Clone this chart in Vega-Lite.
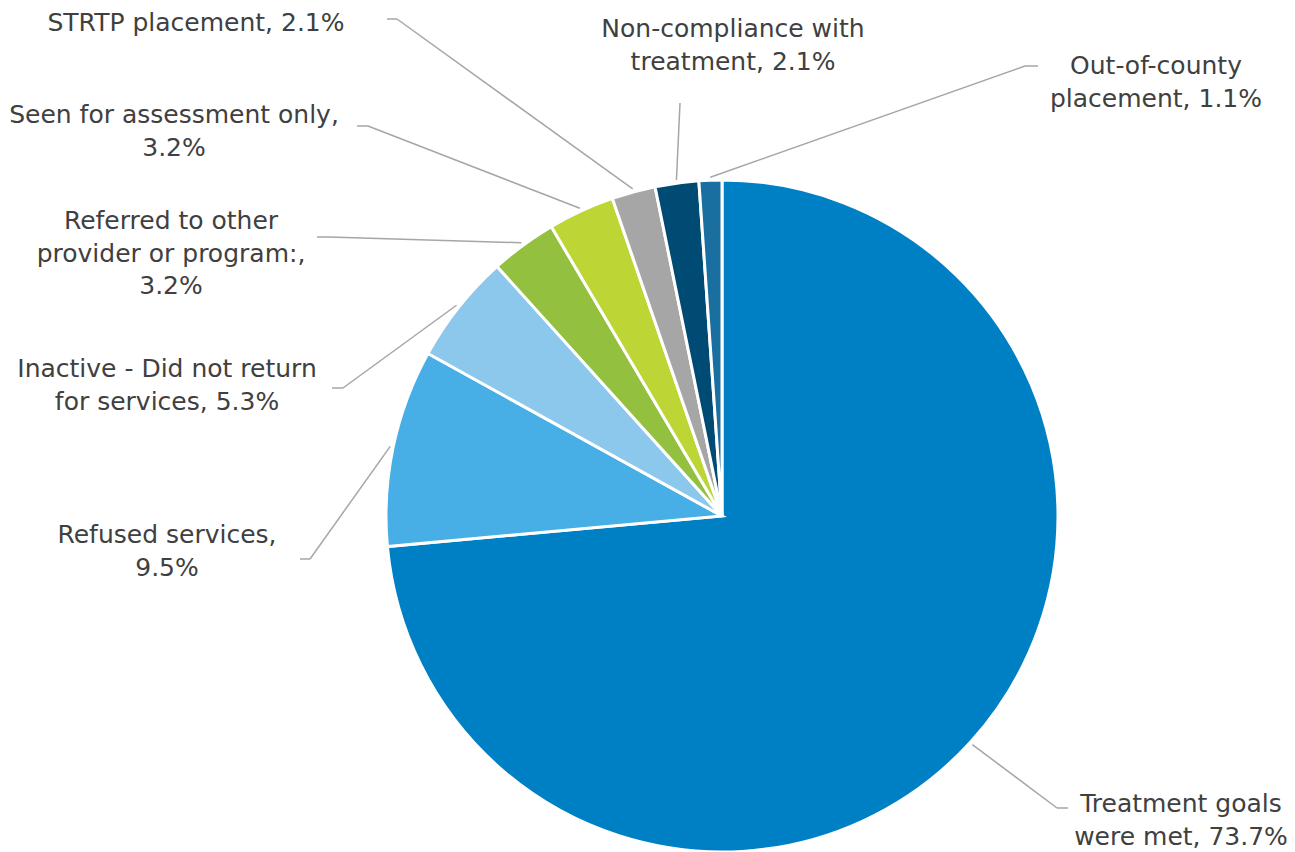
{
  "$schema": "https://vega.github.io/schema/vega-lite/v6.json",
  "width": 1146,
  "height": 672,
  "autosize": {"type": "none"},
  "padding": {"left": 149, "top": 180, "right": 0, "bottom": 0},
  "background": "white",
  "config": {"view": {"stroke": null}},
  "data": {
    "values": [
      {"category": "Treatment goals were met", "value": 73.7, "label": "Treatment goals\nwere met, 73.7%"},
      {"category": "Refused services", "value": 9.5, "label": "Refused services,\n9.5%"},
      {"category": "Inactive - Did not return for services", "value": 5.3, "label": "Inactive - Did not return\nfor services, 5.3%"},
      {"category": "Referred to other provider or program:", "value": 3.2, "label": "Referred to other\nprovider or program:,\n3.2%"},
      {"category": "Seen for assessment only", "value": 3.2, "label": "Seen for assessment only,\n3.2%"},
      {"category": "STRTP placement", "value": 2.1, "label": "STRTP placement, 2.1%"},
      {"category": "Non-compliance with treatment", "value": 2.1, "label": "Non-compliance with\ntreatment, 2.1%"},
      {"category": "Out-of-county placement", "value": 1.1, "label": "Out-of-county\nplacement, 1.1%"}
    ]
  },
  "transform": [
    {"window": [{"op": "row_number", "as": "idx"}, {"op": "sum", "field": "value", "as": "cum"}], "frame": [null, 0]},
    {"joinaggregate": [{"op": "sum", "field": "value", "as": "total"}]},
    {"calculate": "(datum.cum - datum.value / 2) / datum.total * 2 * PI", "as": "mid"},
    {"calculate": "339 * sin(datum.mid)", "as": "sx"},
    {"calculate": "339 * cos(datum.mid)", "as": "sy"},
    {"calculate": "[459, -555, -555, -551, -548, -526, 11, 434][datum.idx - 1]", "as": "lx"},
    {"calculate": "[-288, -19, 147, 295, 401, 493, 487, 450][datum.idx - 1]", "as": "ly"},
    {"calculate": "[335, -412, -379, -393, -354, -325, -42, 303][datum.idx - 1]", "as": "ex"},
    {"calculate": "[-292, -43, 128, 279, 390, 497, 413, 450][datum.idx - 1]", "as": "ey"},
    {"calculate": "[346, -422, -390, -405, -365, -335, -42, 316][datum.idx - 1]", "as": "tx"},
    {"calculate": "[-292, -43, 128, 279, 390, 497, 413, 450][datum.idx - 1]", "as": "ty"}
  ],
  "layer": [
    {
      "mark": {"type": "arc", "outerRadius": 336, "stroke": "white", "strokeWidth": 3},
      "encoding": {
        "theta": {"field": "value", "type": "quantitative", "stack": true},
        "order": {"field": "idx", "type": "quantitative"},
        "color": {
          "field": "category",
          "type": "nominal",
          "legend": null,
          "scale": {
            "domain": ["Treatment goals were met", "Refused services", "Inactive - Did not return for services", "Referred to other provider or program:", "Seen for assessment only", "STRTP placement", "Non-compliance with treatment", "Out-of-county placement"],
            "range": ["#0080C4", "#47AEE6", "#8CC8EB", "#93C13F", "#BDD636", "#A6A6A6", "#004B74", "#186FA0"]
          }
        }
      }
    },
    {
      "mark": {"type": "rule", "color": "#A6A6A6", "strokeWidth": 1.5},
      "encoding": {
        "x": {"field": "sx", "type": "quantitative", "scale": {"domain": [-573, 573], "nice": false, "zero": false}, "axis": null},
        "y": {"field": "sy", "type": "quantitative", "scale": {"domain": [-336, 336], "nice": false, "zero": false}, "axis": null},
        "x2": {"field": "ex"},
        "y2": {"field": "ey"}
      }
    },
    {
      "mark": {"type": "rule", "color": "#A6A6A6", "strokeWidth": 1.5},
      "encoding": {
        "x": {"field": "ex", "type": "quantitative"},
        "y": {"field": "ey", "type": "quantitative"},
        "x2": {"field": "tx"},
        "y2": {"field": "ty"}
      }
    },
    {
      "mark": {"type": "text", "font": "DejaVu Sans", "fontSize": 25, "lineHeight": 32.5, "lineBreak": "\n", "color": "#404040", "align": "center", "baseline": "middle"},
      "encoding": {
        "x": {"field": "lx", "type": "quantitative"},
        "y": {"field": "ly", "type": "quantitative"},
        "text": {"field": "label", "type": "nominal"}
      }
    }
  ]
}
